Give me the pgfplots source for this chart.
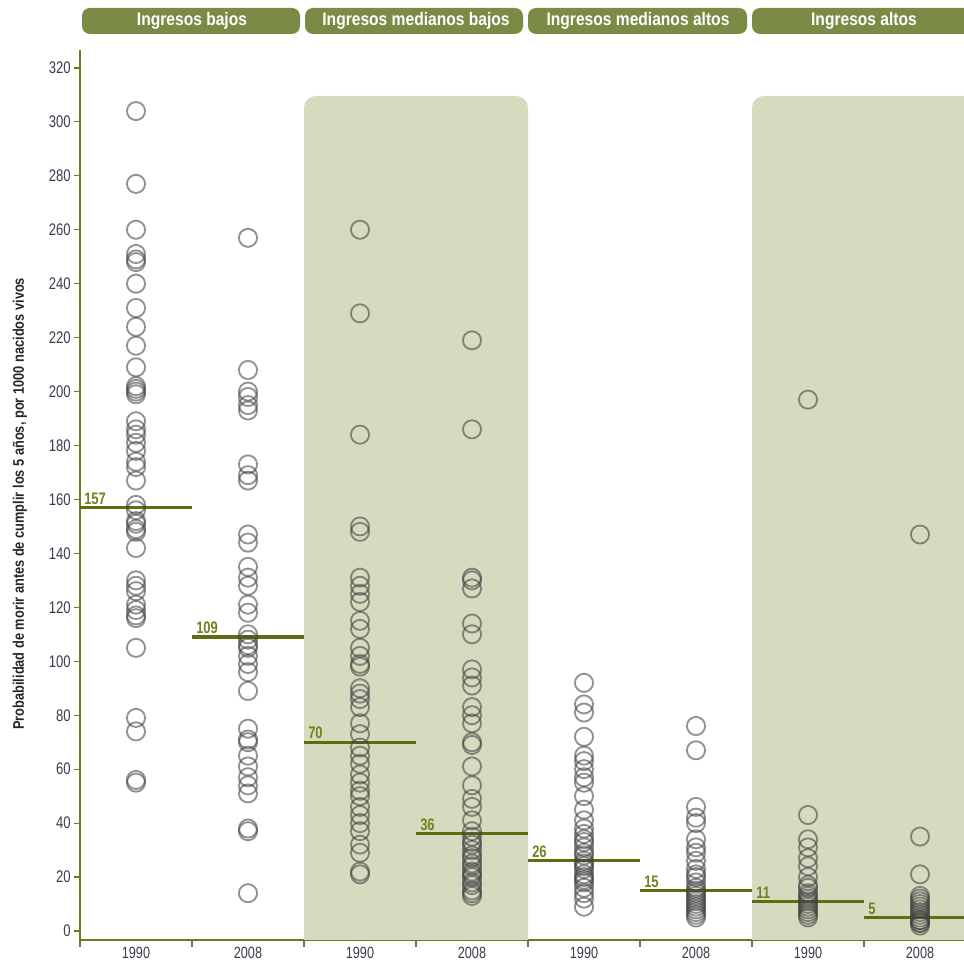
\documentclass[border=0pt]{standalone}
\usepackage{pgfplots}
\pgfplotsset{compat=1.18}
\usepackage{fontspec}
\setmainfont{Liberation Sans}
\definecolor{hdrgreen}{HTML}{7B8B45}
\definecolor{axisgreen}{HTML}{6B7D1C}
\definecolor{medgreen}{HTML}{5A6E12}
\definecolor{labgreen}{HTML}{718220}
\definecolor{grpshade}{HTML}{D6DBBF}
\definecolor{ringgray}{HTML}{444444}
\definecolor{ticktext}{HTML}{3B3B4F}
\newcommand\cx[1]{\scalebox{0.78}[1]{#1}}
\pgfplotsset{
  ringplot/.style={only marks, mark=o, mark size=6.8pt,
     mark options={draw=ringgray, draw opacity=0.58, line width=1.4pt}},
  medplot/.style={no marks, sharp plot, draw=medgreen, line width=2.3pt},
}
\begin{document}
\begin{tikzpicture}[x=0.75pt,y=0.75pt]
\useasboundingbox (0,0) rectangle (964,962);
% group headers
\fill[hdrgreen, rounded corners=6pt] (82,928) rectangle (300,954);
\fill[hdrgreen, rounded corners=6pt] (305,928) rectangle (523,954);
\fill[hdrgreen, rounded corners=6pt] (528,928) rectangle (747,954);
\fill[hdrgreen, rounded corners=6pt] (752,928) rectangle (990,954);
\begin{scope}[every node/.style={text=white, font=\bfseries\fontsize{13.6}{14}\selectfont, anchor=base}]
\node at (192,936) {\scalebox{0.86}[1]{Ingresos bajos}};
\node at (416,936) {\scalebox{0.86}[1]{Ingresos medianos bajos}};
\node at (638,936) {\scalebox{0.86}[1]{Ingresos medianos altos}};
\node at (864,936) {\scalebox{0.86}[1]{Ingresos altos}};
\end{scope}
\begin{axis}[
  at={(60pt,16.5pt)}, anchor=south west,
  x=84pt, y=2.0228pt,
  xmin=-0.5, xmax=7.393, ymin=-3.34, ymax=326.7,
  axis lines=left,
  axis line style={-, draw=axisgreen, line width=1.2pt},
  tick align=outside,
  ytick={0,20,...,320},
  yticklabel={\cx{\pgfmathprintnumber[assume math mode=true]{\tick}}},
  yticklabel style={font=\fontsize{12.6}{13}\selectfont, text=ticktext, xshift=1pt},
  ytick style={draw=axisgreen, line width=0.9pt},
  major tick length=4.5pt,
  xtick={0,1,2,3,4,5,6,7},
  xticklabels={\cx{1990},\cx{2008},\cx{1990},\cx{2008},\cx{1990},\cx{2008},\cx{1990},\cx{2008}},
  xticklabel style={font=\fontsize{12.2}{12.5}\selectfont, text=ticktext, yshift=2.6pt},
  xtick style={draw=none},
  minor xtick={-0.5,0.5,1.5,2.5,3.5,4.5,5.5,6.5},
  minor tick length=5pt,
  minor x tick style={draw=axisgreen, line width=0.9pt},
  ylabel={\scalebox{0.835}[1]{Probabilidad de morir antes de cumplir los 5 años, por 1000 nacidos vivos}},
  every axis y label/.style={at={(axis description cs:-0.068,0.49)}, rotate=90, anchor=center,
     font=\bfseries\fontsize{11.5}{12}\selectfont, text=black!85},
  clip=true,
]
% shaded groups
\fill[grpshade, rounded corners=9pt] (axis cs:1.5,-30) rectangle (axis cs:3.5,309.6);
\fill[grpshade, rounded corners=9pt] (axis cs:5.5,-30) rectangle (axis cs:8.5,309.6);

% Ingresos bajos 1990
\addplot[ringplot] coordinates {(0,304)(0,277)(0,260)(0,251)(0,249)(0,248)(0,240)(0,231)(0,224)(0,217)(0,209)(0,202)(0,201)(0,200)(0,199)(0,189)(0,186)(0,184)(0,181)(0,178)(0,174)(0,172)(0,167)(0,158)(0,156)(0,152)(0,151)(0,149)(0,148)(0,142)(0,130)(0,128)(0,126)(0,121)(0,119)(0,117)(0,116)(0,105)(0,79)(0,74)(0,56)(0,55)};
% Ingresos bajos 2008
\addplot[ringplot] coordinates {(1,257)(1,208)(1,200)(1,198)(1,195)(1,193)(1,173)(1,169)(1,167)(1,147)(1,144)(1,135)(1,131)(1,128)(1,121)(1,118)(1,110)(1,108)(1,106)(1,105)(1,102)(1,99)(1,96)(1,89)(1,75)(1,71)(1,70)(1,65)(1,61)(1,57)(1,54)(1,51)(1,38)(1,37)(1,14)};
% Ingresos medianos bajos 1990
\addplot[ringplot] coordinates {(2,260)(2,229)(2,184)(2,150)(2,148)(2,131)(2,128)(2,125)(2,122)(2,115)(2,112)(2,105)(2,102)(2,99)(2,98)(2,90)(2,88)(2,86)(2,83)(2,77)(2,73)(2,68)(2,65)(2,62)(2,58)(2,55)(2,52)(2,50)(2,46)(2,43)(2,40)(2,37)(2,32)(2,29)(2,22)(2,21)};
% Ingresos medianos bajos 2008
\addplot[ringplot] coordinates {(3,219)(3,186)(3,131)(3,130)(3,127)(3,114)(3,110)(3,97)(3,94)(3,91)(3,83)(3,80)(3,77)(3,70)(3,69)(3,61)(3,54)(3,49)(3,46)(3,41)(3,37)(3,35)(3,33)(3,32)(3,30)(3,28)(3,27)(3,25)(3,24)(3,22)(3,21)(3,20)(3,18)(3,17)(3,15)(3,14)(3,13)};
% Ingresos medianos altos 1990
\addplot[ringplot] coordinates {(4,92)(4,84)(4,81)(4,72)(4,65)(4,63)(4,60)(4,57)(4,55)(4,50)(4,45)(4,41)(4,38)(4,36)(4,34)(4,33)(4,31)(4,29)(4,28)(4,26)(4,25)(4,24)(4,23)(4,21)(4,20)(4,19)(4,18)(4,16)(4,14)(4,12)(4,9)};
% Ingresos medianos altos 2008
\addplot[ringplot] coordinates {(5,76)(5,67)(5,46)(5,42)(5,40)(5,34)(5,31)(5,29)(5,26)(5,23)(5,21)(5,20)(5,18)(5,16)(5,15)(5,14)(5,13)(5,12)(5,11)(5,10)(5,9)(5,8)(5,7)(5,6)(5,5)};
% Ingresos altos 1990
\addplot[ringplot] coordinates {(6,197)(6,43)(6,34)(6,31)(6,27)(6,24)(6,20)(6,17)(6,16)(6,14)(6,13)(6,12)(6,11)(6,10)(6,9)(6,8)(6,7)(6,6)(6,5)};
% Ingresos altos 2008
\addplot[ringplot] coordinates {(7,147)(7,35)(7,21)(7,13)(7,12)(7,11)(7,10)(7,9)(7,8)(7,7)(7,6)(7,5)(7,4)(7,4)(7,3)(7,3)(7,2)};

% medians
\addplot[medplot] coordinates {(-0.5,157)(0.5,157)};
\addplot[medplot] coordinates {(0.5,109)(1.5,109)};
\addplot[medplot] coordinates {(1.5,70)(2.5,70)};
\addplot[medplot] coordinates {(2.5,36)(3.5,36)};
\addplot[medplot] coordinates {(3.5,26)(4.5,26)};
\addplot[medplot] coordinates {(4.5,15)(5.5,15)};
\addplot[medplot] coordinates {(5.5,11)(6.5,11)};
\addplot[medplot] coordinates {(6.5,5)(7.5,5)};
\begin{scope}[every node/.style={anchor=south west, text=labgreen, font=\bfseries\fontsize{12.5}{12.5}\selectfont, inner sep=1pt, xshift=2pt, yshift=1.2pt}]
\node at (axis cs:-0.5,157) {\cx{157}};
\node at (axis cs:0.5,109) {\cx{109}};
\node at (axis cs:1.5,70) {\cx{70}};
\node at (axis cs:2.5,36) {\cx{36}};
\node at (axis cs:3.5,26) {\cx{26}};
\node at (axis cs:4.5,15) {\cx{15}};
\node at (axis cs:5.5,11) {\cx{11}};
\node at (axis cs:6.5,5) {\cx{5}};
\end{scope}
\end{axis}
\end{tikzpicture}
\end{document}
